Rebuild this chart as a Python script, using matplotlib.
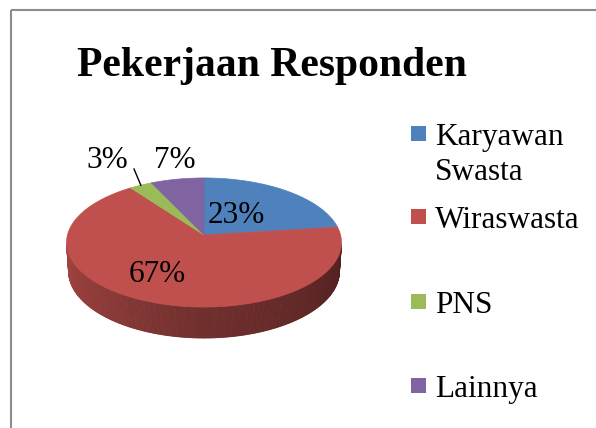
import numpy as np
import matplotlib
matplotlib.use('Agg')
import matplotlib.pyplot as plt
from matplotlib.patches import Polygon, Rectangle
from matplotlib.collections import PolyCollection

plt.rcParams['font.family'] = ['Liberation Serif', 'DejaVu Serif']

# data
categories = ['Karyawan\nSwasta', 'Wiraswasta', 'PNS', 'Lainnya']
shares = [23, 67, 3, 7]
labels = ['23%', '67%', '3%', '7%']
colors = ['#4F81BD', '#C0504D', '#9BBB59', '#8064A2']

# 3D pie geometry, in pixels of the 596x428 picture
cx, cy = 204, 235
scale = 1039
elev = np.radians(27.8)
dist = 7.61
thick = 0.239


def project(theta, r=1.0, z=0.0):
    x = r * np.cos(theta)
    y = r * np.sin(theta)
    d = dist + y * np.cos(elev) - z * np.sin(elev)
    sx = x / d
    sy = (y * np.sin(elev) + z * np.cos(elev)) / d
    return cx + scale * sx, cy - scale * sy


fig = plt.figure(figsize=(5.96, 4.28), dpi=100)
ax = fig.add_axes([0, 0, 1, 1])
ax.set_xlim(0, 596)
ax.set_ylim(428, 0)
ax.axis('off')

# chart frame (only left and top edges are visible)
ax.plot([11, 11], [428, 10], color='#8c8c8c', lw=1.5, solid_capstyle='butt')
ax.plot([11, 596], [10, 10], color='#8c8c8c', lw=1.5, solid_capstyle='butt')

# slice angles, clockwise from 12 o'clock
fracs = np.array(shares) / sum(shares)
edges = np.radians(90 - 360 * np.concatenate([[0], np.cumsum(fracs)]))


def slice_of(theta):
    # angle measured clockwise from the top
    a = (np.pi / 2 - theta) % (2 * np.pi)
    cum = np.cumsum(fracs) * 2 * np.pi
    return int(np.searchsorted(cum, a))


# side wall (front part only)
a = np.arcsin(1 / (dist * np.cos(elev)))
th = np.linspace(np.pi + a, 2 * np.pi - a, 240)
quads, qcols = [], []
for i in range(len(th) - 1):
    t0, t1 = th[i], th[i + 1]
    p = [project(t0), project(t1), project(t1, z=-thick), project(t0, z=-thick)]
    quads.append(p)
    t = (0.5 * (t0 + t1) - th[0]) / (th[-1] - th[0])
    shade = np.interp(t, [0, 0.5, 1], [0.86, 0.58, 0.42])
    base = np.array(matplotlib.colors.to_rgb(colors[slice_of(0.5 * (t0 + t1))]))
    qcols.append(base * shade)
ax.add_collection(PolyCollection(quads, facecolors=qcols, edgecolors=qcols, lw=0.6))

# top faces
for k in range(len(shares)):
    tt = np.linspace(edges[k], edges[k + 1], 200)
    xs, ys = project(tt)
    pts = np.column_stack([np.r_[cx, xs], np.r_[cy, ys]])
    ax.add_patch(Polygon(pts, closed=True, facecolor=colors[k], edgecolor=colors[k], lw=0.5))

# data labels
label_xy = [(236, 223), (157, 282), (107, 168), (175, 168)]
for lab, (lx, ly) in zip(labels, label_xy):
    ax.text(lx, ly, lab, fontsize=22.5, ha='center', va='baseline')

# leader line for the small PNS slice
mid = 0.5 * (edges[2] + edges[3])
ex, ey = project(mid)
ax.plot([134, ex], [169, ey], color='black', lw=1)

# title
ax.text(272, 76, 'Pekerjaan Responden', fontsize=30, fontweight='bold',
        ha='center', va='baseline')

# legend
legend_y = [145, 228, 313, 397]
for name, col, y in zip(categories, colors, legend_y):
    ax.add_patch(Rectangle((411, y - 19), 15, 15, facecolor=col, edgecolor='none'))
    for j, line in enumerate(name.split('\n')):
        ax.text(435, y + 35 * j, line, fontsize=22.5, ha='left', va='baseline')

fig.savefig('out.png', dpi=100)
